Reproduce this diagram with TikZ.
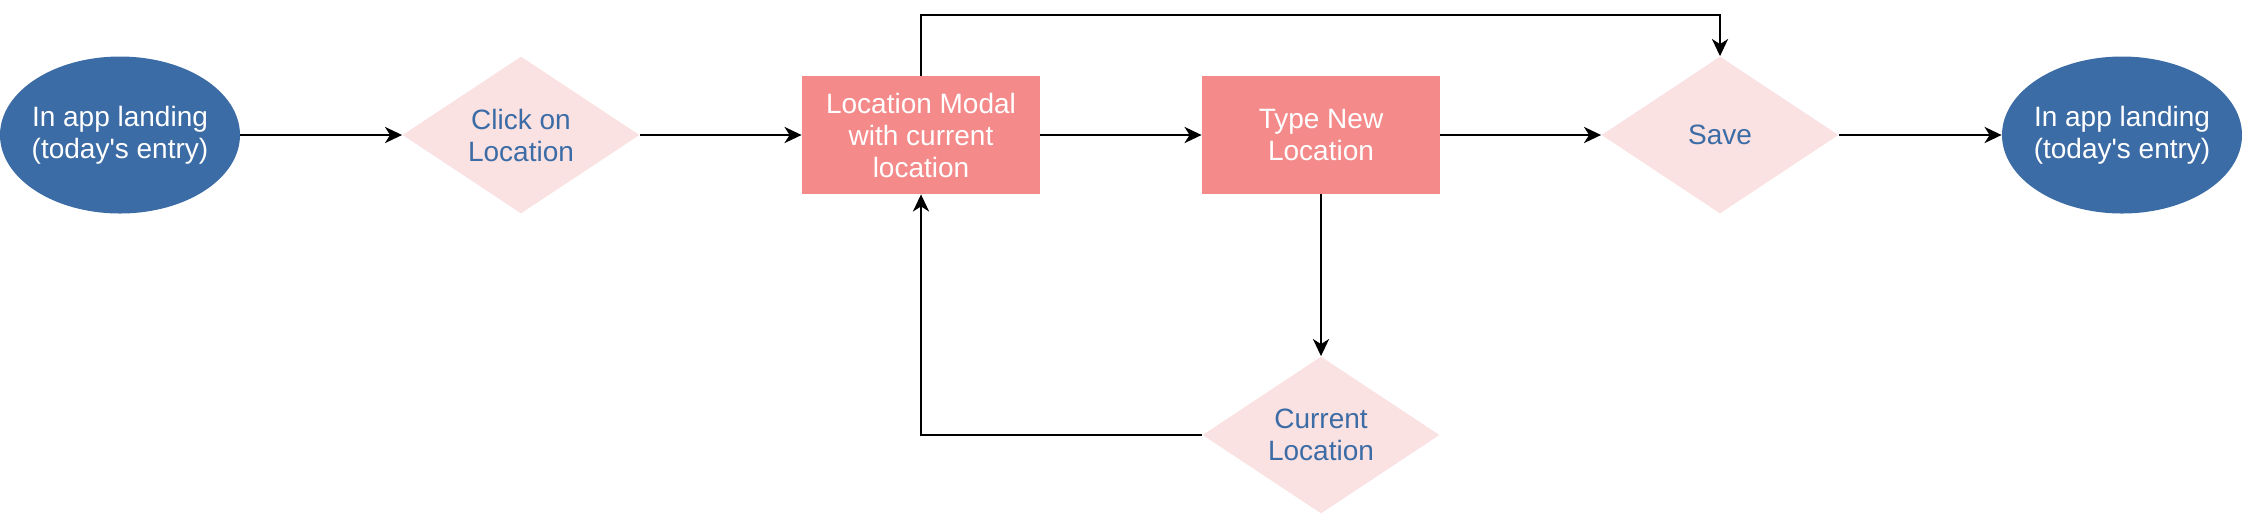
\documentclass[tikz,border=0pt]{standalone}
\usepackage{fontspec}
\setmainfont{Liberation Sans}[Ligatures=TeXOff]
\usetikzlibrary{shapes.geometric,arrows.meta}
\definecolor{eblue}{HTML}{3C6CA5}
\definecolor{rpink}{HTML}{F48A8A}
\definecolor{dpink}{HTML}{FAE1E2}
\tikzset{
  every node/.style={font=\fontsize{14pt}{16pt}\selectfont, align=center},
  ebox/.style={ellipse, fill=eblue, text=white, minimum width=120pt, minimum height=78.5pt, inner sep=-4pt},
  dbox/.style={diamond, fill=dpink, text=eblue, minimum width=118.5pt, minimum height=78.5pt, inner sep=-5pt},
  rbox/.style={rectangle, fill=rpink, text=white, minimum width=119pt, minimum height=59pt, inner sep=0pt},
  conn/.style={line width=1.4pt, -{Stealth[length=8.5pt,width=8pt,inset=2.5pt]}}
}
\begin{document}
\begin{tikzpicture}[x=0.5pt,y=-0.5pt]
\useasboundingbox (0,0) rectangle (2242,516);
\node[ebox] (e1) at (120,135) {In app landing\\(today's entry)};
\node[dbox] (d1) at (521,135) {Click on\\Location};
\node[rbox] (r1) at (921,135) {Location Modal\\with current\\location};
\node[rbox] (r2) at (1321,135) {Type New\\Location};
\node[dbox] (sv) at (1720,135) {Save};
\node[ebox] (e2) at (2122,135) {In app landing\\(today's entry)};
\node[dbox] (cl) at (1321,435) {Current\\Location};
\coordinate (tl) at (921,15);
\coordinate (tr) at (1720,15);
\coordinate (bl) at (921,435);
\draw[conn] (e1) -- (d1);
\draw[conn] (d1) -- (r1);
\draw[conn] (r1) -- (r2);
\draw[conn] (r2) -- (sv);
\draw[conn] (sv) -- (e2);
\draw[conn] (r2) -- (cl);
\draw[conn] (cl.west) -- (bl) -- (r1.south);
\draw[conn] (r1.north) -- (tl) -- (tr) -- (sv.north);
\end{tikzpicture}
\end{document}
